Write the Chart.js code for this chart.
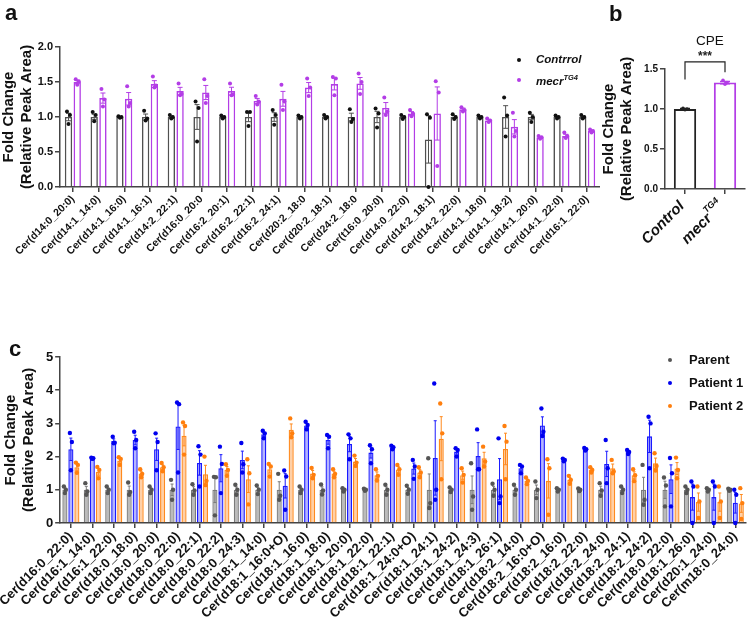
<!DOCTYPE html>
<html>
<head>
<meta charset="utf-8">
<script src="https://cdn.jsdelivr.net/npm/chart.js@4.4.1/dist/chart.umd.min.js"></script>
<style>
body { margin: 0; background: #fff; font-family: "Liberation Sans", Arial, sans-serif; }
#wrap { position: relative; width: 750px; height: 618px; overflow: hidden; }
canvas { position: absolute; }
.lbl { position: absolute; font-weight: bold; color: #111; line-height: 1; }
.leg { position: absolute; font-weight: bold; color: #111; white-space: nowrap; line-height: 1; }
.dot { position: absolute; border-radius: 50%; }
sup { font-size: 65%; }
</style>
</head>
<body>
<div id="wrap">
  <canvas id="ca" width="600" height="290" style="left:0;top:0"></canvas>
  <canvas id="cb" width="150" height="260" style="left:600px;top:0"></canvas>
  <canvas id="cc" width="750" height="278" style="left:0;top:340px"></canvas>

  <div class="lbl" style="left:5px;top:2px;font-size:22px">a</div>
  <div class="lbl" style="left:609px;top:3px;font-size:22px">b</div>
  <div class="lbl" style="left:9px;top:338px;font-size:22px">c</div>
  <div class="lbl" style="left:696px;top:34px;font-size:13.5px;font-weight:normal">CPE</div>

  <div class="dot" style="left:517px;top:58px;width:4px;height:4px;background:#111"></div>
  <div class="leg" style="left:536px;top:54px;font-size:11.5px;font-style:italic">Contrrol</div>
  <div class="dot" style="left:517px;top:78px;width:4px;height:4px;background:#b33de6"></div>
  <div class="leg" style="left:536px;top:74px;font-size:11.5px;font-style:italic">mecr<sup>TG4</sup></div>

  <div class="dot" style="left:668px;top:358px;width:4px;height:4px;background:#555"></div>
  <div class="leg" style="left:689px;top:353px;font-size:13px">Parent</div>
  <div class="dot" style="left:668px;top:381px;width:4px;height:4px;background:#0000ee"></div>
  <div class="leg" style="left:689px;top:376px;font-size:13px">Patient 1</div>
  <div class="dot" style="left:668px;top:404px;width:4px;height:4px;background:#ff7f0e"></div>
  <div class="leg" style="left:689px;top:399px;font-size:13px">Patient 2</div>
</div>
<script>
// ---- panel a data ----
const aLabels = ["Cer(d14:0_20:0)", "Cer(d14:1_14:0)", "Cer(d14:1_16:0)", "Cer(d14:1_16:1)", "Cer(d14:2_22:1)",
  "Cer(d16:0_20:0", "Cer(d16:2_20:1)", "Cer(d16:2_22:1)", "Cer(d16:2_24:1)", "Cer(d20:2_18:0",
  "Cer(d20:2_18:1)", "Cer(d24:2_18:0", "Cer(t16:0_20:0)", "Cer(d14:0_22:0)", "Cer(d14:2_18:1)",
  "Cer(d14:2_22:0)", "Cer(d14:1_18:0)", "Cer(d14:1_18:2)", "Cer(d14:1_20:0)", "Cer(d14:1_22:0)", "Cer(d16:1_22:0)"];
const aControl = [1, 1, 1, 1, 1, 1, 1, 1, 1, 1, 1, 1, 1, 1, 0.68, 1, 1, 1, 1, 1, 1];
const aMecr = [1.50, 1.27, 1.26, 1.47, 1.37, 1.35, 1.37, 1.23, 1.26, 1.42, 1.47, 1.48, 1.13, 1.05, 1.05, 1.11, 0.95, 0.86, 0.71, 0.73, 0.80];
const aControlDots = [[1.08,1.03,0.9],[1.07,1.03,0.94],[1.01,1.0,0.99],[1.09,0.98,0.95],[1.03,1.0,0.98],[1.22,1.13,0.65],
  [1.02,1.0,0.98],[1.07,1.07,0.87],[1.1,1.03,0.89],[1.02,1.0,0.98],[1.03,1.0,0.98],[1.11,0.97,0.93],[1.12,1.05,0.85],
  [1.03,1.0,0.97],[1.04,0.99,0.0],[1.04,1.0,0.97],[1.02,1.0,0.98],[1.28,1.02,0.72],[1.06,1.0,0.93],[1.02,1.0,0.98],[1.03,1.0,0.98]];
const aMecrDots = [[1.54,1.51,1.46],[1.4,1.25,1.15],[1.44,1.2,1.15],[1.58,1.45,1.42],[1.48,1.33,1.31],[1.54,1.3,1.2],
  [1.48,1.32,1.31],[1.3,1.22,1.18],[1.46,1.22,1.1],[1.55,1.42,1.3],[1.57,1.55,1.31],[1.62,1.5,1.33],[1.28,1.08,1.03],
  [1.1,1.05,1.01],[1.51,1.35,0.3],[1.14,1.1,1.08],[0.98,0.95,0.93],[1.06,0.8,0.72],[0.73,0.71,0.69],[0.78,0.73,0.7],[0.82,0.8,0.78]];

// ---- panel b data ----
const bLabels = [["Control"], ["mecr", "TG4"]];
const bValues = [1.0, 1.33];
const bDots = [[1.01,1.0,0.99],[1.36,1.33,1.31]];
const bSig = "***";

// ---- panel c data ----
const cLabels = ["Cer(d16:0_22:0)", "Cer(d16:1_14:0)", "Cer(d16:1_22:0)", "Cer(d18:0_18:0)", "Cer(d18:0_20:0)",
  "Cer(d18:0_22:0)", "Cer(d18:0_22:1)", "Cer(d18:0_22:2)", "Cer(d18:0_24:3)", "Cer(d18:1_14:0)", "Cer(d18:1_16:0+O)",
  "Cer(d18:1_16:0)", "Cer(d18:1_18:0)", "Cer(d18:1_20:0)", "Cer(d18:1_22:0)", "Cer(d18:1_22:1)", "Cer(d18:1_24:0+O)",
  "Cer(d18:1_24:1)", "Cer(d18:1_24:2)", "Cer(d18:1_24:3)", "Cer(d18:1_26:1)", "Cer(d18:2_14:0)", "Cer(d18:2_16:0+O)",
  "Cer(d18:2_16:0)", "Cer(d18:2_22:0)", "Cer(d18:2_24:0)", "Cer(d18:2_24:1)", "Cer(d18:2_24:2)", "Cer(m18:0_22:0)",
  "Cer(d18:1_26:0)", "Cer(d20:1_24:0)", "Cer(m18:0_24:0)"];
const cParent = [1,1,1,1,1,1,1,1,1,1,1,1,1,1,1,1,1,1,1,1,1,1,1,1,1,1,1,1,1,1,1,1];
const cPatient1 = [2.22,1.96,2.47,2.5,2.22,2.91,1.81,1.65,1.9,2.67,1.12,2.94,2.5,2.38,2.12,2.28,1.64,1.96,2.15,2.02,1.32,1.65,2.94,1.9,2.22,1.78,2.14,2.61,1.32,0.78,0.78,0.61];
const cPatient2 = [1.68,1.54,1.88,1.49,1.68,2.63,1.47,1.6,1.32,1.62,2.81,1.49,1.49,1.85,1.44,1.61,1.52,2.54,1.44,1.95,2.23,1.27,1.27,1.3,1.6,1.65,1.44,1.8,1.64,0.63,0.63,0.59];
const cParentDots = [[1.1,1.0,0.9],[1.2,0.95,0.85],[1.1,1.0,0.9],[1.22,0.93,0.85],[1.1,1.0,0.9],[1.3,1.0,0.7],[1.17,0.98,0.85],
  [1.39,1.38,0.23],[1.15,1.0,0.85],[1.13,1.0,0.87],[1.48,0.82,0.7],[1.1,1.0,0.9],[1.16,0.98,0.86],[1.05,1.0,0.95],[1.03,1.0,0.97],
  [1.15,1.0,0.85],[1.12,1.0,0.88],[1.95,0.6,0.45],[1.07,1.0,0.93],[1.8,0.8,0.4],[1.18,1.0,0.82],[1.15,1.0,0.85],[1.25,1.0,0.75],
  [1.05,1.0,0.95],[1.04,1.0,0.96],[1.2,0.98,0.82],[1.1,1.0,0.9],[1.75,0.7,0.55],[1.37,1.13,0.5],[1.1,1.0,0.9],[1.05,1.0,0.95],[1.03,1.0,0.97]];
const cPatient1Dots = [[2.71,2.44,1.59],[1.97,1.95,1.93],[2.6,2.42,2.4],[2.75,2.5,2.25],[2.7,2.44,1.59],[3.63,3.58,1.52],
  [2.31,2.06,1.1],[2.3,1.78,0.9],[2.41,1.77,1.52],[2.78,2.7,2.55],[1.58,1.4,0.4],[3.05,2.95,2.82],[2.65,2.6,2.25],[2.67,2.55,1.92],
  [2.34,2.22,1.8],[2.33,2.28,2.22],[1.9,1.7,1.33],[4.2,1.0,0.7],[2.25,2.2,2.0],[2.82,1.62,1.62],[2.55,0.8,0.6],[1.75,1.7,1.5],
  [3.45,2.75,2.62],[1.94,1.9,1.86],[2.26,2.22,2.18],[2.5,1.65,1.2],[2.2,2.14,2.08],[3.2,3.0,1.65],[1.96,1.5,0.5],
  [1.25,1.1,0.0],[1.25,1.1,0.0],[1.0,0.85,0.0]];
const cPatient2Dots = [[1.82,1.75,1.51],[1.69,1.6,1.35],[1.98,1.93,1.75],[1.62,1.48,1.38],[1.81,1.68,1.56],[3.03,2.92,2.06],
  [2.0,1.27,1.14],[1.77,1.6,1.42],[1.92,1.5,0.56],[1.78,1.7,1.4],[3.15,2.7,2.58],[1.66,1.45,1.35],[1.62,1.48,1.38],[2.03,1.82,1.72],
  [1.62,1.42,1.28],[1.75,1.62,1.45],[1.68,1.52,1.38],[3.6,2.7,1.32],[1.65,1.45,1.22],[2.3,1.85,1.7],[2.92,2.45,1.32],[1.37,1.27,1.17],
  [1.92,1.65,0.25],[1.42,1.3,1.18],[1.68,1.6,1.52],[1.9,1.55,1.5],[1.62,1.44,1.26],[2.1,1.72,1.58],[1.97,1.6,1.35],
  [1.1,0.65,0.15],[1.1,0.65,0.15],[1.05,0.6,0.12]];

Chart.defaults.font.family = '"Liberation Sans", Arial, sans-serif';
Chart.defaults.color = '#111';
Chart.defaults.animation = false;

function sem(a) {
  const m = a.reduce((s, v) => s + v, 0) / a.length;
  const sd = Math.sqrt(a.reduce((s, v) => s + (v - m) ** 2, 0) / (a.length - 1));
  return sd / Math.sqrt(a.length);
}

// error bars (mean +/- SEM) and individual points on top of each bar
const errDots = {
  id: 'errDots',
  afterDatasetsDraw(chart, args, opts) {
    const ctx = chart.ctx;
    const y = chart.scales.y;
    chart.data.datasets.forEach((ds, di) => {
      const meta = chart.getDatasetMeta(di);
      meta.data.forEach((bar, i) => {
        const pts = ds.dots[i];
        const m = ds.data[i];
        const e = sem(pts);
        const col = Array.isArray(ds.borderColor) ? ds.borderColor[i] : ds.borderColor;
        const dcol = Array.isArray(ds.dotColor) ? ds.dotColor[i] : ds.dotColor;
        const yt = y.getPixelForValue(m + e), yb = y.getPixelForValue(Math.max(0, m - e));
        ctx.save();
        ctx.strokeStyle = col;
        ctx.lineWidth = opts.lw || 1;
        ctx.beginPath();
        ctx.moveTo(bar.x, yb); ctx.lineTo(bar.x, yt);
        ctx.moveTo(bar.x - opts.cap, yt); ctx.lineTo(bar.x + opts.cap, yt);
        ctx.moveTo(bar.x - opts.cap, yb); ctx.lineTo(bar.x + opts.cap, yb);
        ctx.stroke();
        ctx.fillStyle = dcol;
        pts.forEach((v, k) => {
          ctx.beginPath();
          ctx.arc(bar.x + opts.jitter[k % opts.jitter.length], y.getPixelForValue(v), opts.r, 0, Math.PI * 2);
          ctx.fill();
        });
        ctx.restore();
      });
    });
  }
};

// significance bracket for panel b
const bracket = {
  id: 'bracket',
  afterDraw(chart, args, opts) {
    if (!opts.text) return;
    const ctx = chart.ctx, y = chart.scales.y;
    const bars = chart.getDatasetMeta(0).data;
    const yl = y.getPixelForValue(opts.level);
    ctx.save();
    ctx.strokeStyle = '#222';
    ctx.lineWidth = 1.2;
    ctx.beginPath();
    ctx.moveTo(bars[0].x, y.getPixelForValue(opts.left));
    ctx.lineTo(bars[0].x, yl);
    ctx.lineTo(bars[1].x, yl);
    ctx.lineTo(bars[1].x, y.getPixelForValue(opts.right));
    ctx.stroke();
    ctx.fillStyle = '#222';
    ctx.font = 'bold 12px "Liberation Sans", Arial';
    ctx.textAlign = 'center';
    ctx.textBaseline = 'bottom';
    ctx.fillText(opts.text, (bars[0].x + bars[1].x) / 2, yl + 1);
    ctx.restore();
  }
};

// rotated x labels with superscripts (panel b)
const supLabels = {
  id: 'supLabels',
  afterDraw(chart, args, opts) {
    if (!opts.labels) return;
    const ctx = chart.ctx, x = chart.scales.x;
    const base = 'italic bold ' + opts.size + 'px "Liberation Sans", Arial';
    const sup = 'italic bold ' + Math.round(opts.size * 0.6) + 'px "Liberation Sans", Arial';
    opts.labels.forEach((parts, i) => {
      ctx.save();
      ctx.translate(x.getPixelForTick(i) + opts.dx, chart.chartArea.bottom + opts.dy);
      ctx.rotate(-Math.PI / 4);
      ctx.fillStyle = '#111';
      ctx.textBaseline = 'middle';
      ctx.font = base;
      const w0 = ctx.measureText(parts[0]).width;
      let w1 = 0;
      if (parts[1]) { ctx.font = sup; w1 = ctx.measureText(parts[1]).width; }
      ctx.font = base;
      ctx.fillText(parts[0], -(w0 + w1), 0);
      if (parts[1]) { ctx.font = sup; ctx.fillText(parts[1], -w1, -opts.size * 0.45); }
      ctx.restore();
    });
  }
};

function yAxis(min, max, step, tickSize, width, fixed, titleSize) {
  return {
    min: min, max: max,
    ticks: { stepSize: step, font: { size: tickSize, weight: 'bold' }, color: '#111', padding: 2,
      callback: v => fixed ? v.toFixed(1) : v },
    grid: { drawOnChartArea: false, drawTicks: true, tickLength: 5, color: '#444', lineWidth: 1.5 },
    border: { color: '#444', width: 1.5 },
    title: { display: true, text: ['Fold Change', '(Relative Peak Area)'], font: { size: titleSize, weight: 'bold', lineHeight: 1.2 }, color: '#111', padding: 0 },
    afterFit: s => { s.width = width; }
  };
}

function xAxis(height, tickSize, showLabels) {
  return {
    ticks: { display: showLabels, autoSkip: false, minRotation: 45, maxRotation: 45, font: { size: tickSize, weight: 'bold' }, color: '#111', padding: 1 },
    grid: { drawOnChartArea: false, drawTicks: true, tickLength: 5, color: '#444', lineWidth: 1.5, offset: false },
    border: { color: '#444', width: 1.5 },
    afterFit: s => { s.height = height; }
  };
}

// ---- panel a ----
new Chart(document.getElementById('ca'), {
  type: 'bar',
  data: {
    labels: aLabels,
    datasets: [
      { label: 'Contrrol', data: aControl, dots: aControlDots, backgroundColor: '#fff', borderColor: '#505050', dotColor: '#111', borderWidth: 1.6 },
      { label: 'mecrTG4', data: aMecr, dots: aMecrDots, backgroundColor: '#fff', borderColor: '#b33de6', dotColor: '#b33de6', borderWidth: 1.6 }
    ]
  },
  options: {
    responsive: false, devicePixelRatio: 1,
    categoryPercentage: 0.68, barPercentage: 0.84,
    layout: { padding: { left: 0, top: 47, right: 0, bottom: 0 } },
    plugins: { legend: { display: false }, tooltip: { enabled: false },
      errDots: { cap: 2.5, r: 2, jitter: [-1.5, 1.5, 0] } },
    scales: { x: xAxis(103, 10.5, true), y: yAxis(0, 2, 0.5, 11, 60, true, 15) }
  },
  plugins: [errDots]
});

// ---- panel b ----
new Chart(document.getElementById('cb'), {
  type: 'bar',
  data: {
    labels: bLabels.map(p => p.join('')),
    datasets: [
      { data: bValues, dots: bDots, backgroundColor: '#fff', borderColor: ['#222', '#b33de6'], dotColor: ['#222', '#b33de6'], borderWidth: 2 }
    ]
  },
  options: {
    responsive: false, devicePixelRatio: 1,
    categoryPercentage: 0.9, barPercentage: 0.62,
    layout: { padding: { left: 0, top: 69, right: 5, bottom: 0 } },
    plugins: { legend: { display: false }, tooltip: { enabled: false },
      errDots: { cap: 5, r: 1.8, jitter: [-2, 2, 0], lw: 1.5 },
      bracket: { text: bSig, level: 1.59, left: 1.37, right: 1.46 },
      supLabels: { labels: bLabels, size: 15, dx: -3, dy: 15 } },
    scales: { x: xAxis(71, 13, false), y: yAxis(0, 1.5, 0.5, 10, 65, true, 15) }
  },
  plugins: [errDots, bracket, supLabels]
});

// ---- panel c ----
new Chart(document.getElementById('cc'), {
  type: 'bar',
  data: {
    labels: cLabels,
    datasets: [
      { label: 'Parent', data: cParent, dots: cParentDots, backgroundColor: 'rgba(120,120,120,0.5)', borderColor: '#7a7a7a', dotColor: '#555', borderWidth: 1.2 },
      { label: 'Patient 1', data: cPatient1, dots: cPatient1Dots, backgroundColor: 'rgba(70,70,255,0.4)', borderColor: '#1a1aff', dotColor: '#0000ee', borderWidth: 1.3 },
      { label: 'Patient 2', data: cPatient2, dots: cPatient2Dots, backgroundColor: 'rgba(255,150,60,0.45)', borderColor: '#ff8a1e', dotColor: '#ff7f0e', borderWidth: 1.3 }
    ]
  },
  options: {
    responsive: false, devicePixelRatio: 1,
    categoryPercentage: 0.84, barPercentage: 0.85,
    layout: { padding: { left: 0, top: 17, right: 4, bottom: 0 } },
    plugins: { legend: { display: false }, tooltip: { enabled: false },
      errDots: { cap: 1.5, r: 2.2, jitter: [-1, 1, 0] } },
    scales: { x: xAxis(95, 13, true), y: yAxis(0, 5, 1, 13, 58, false, 15) }
  },
  plugins: [errDots]
});
</script>
</body>
</html>
